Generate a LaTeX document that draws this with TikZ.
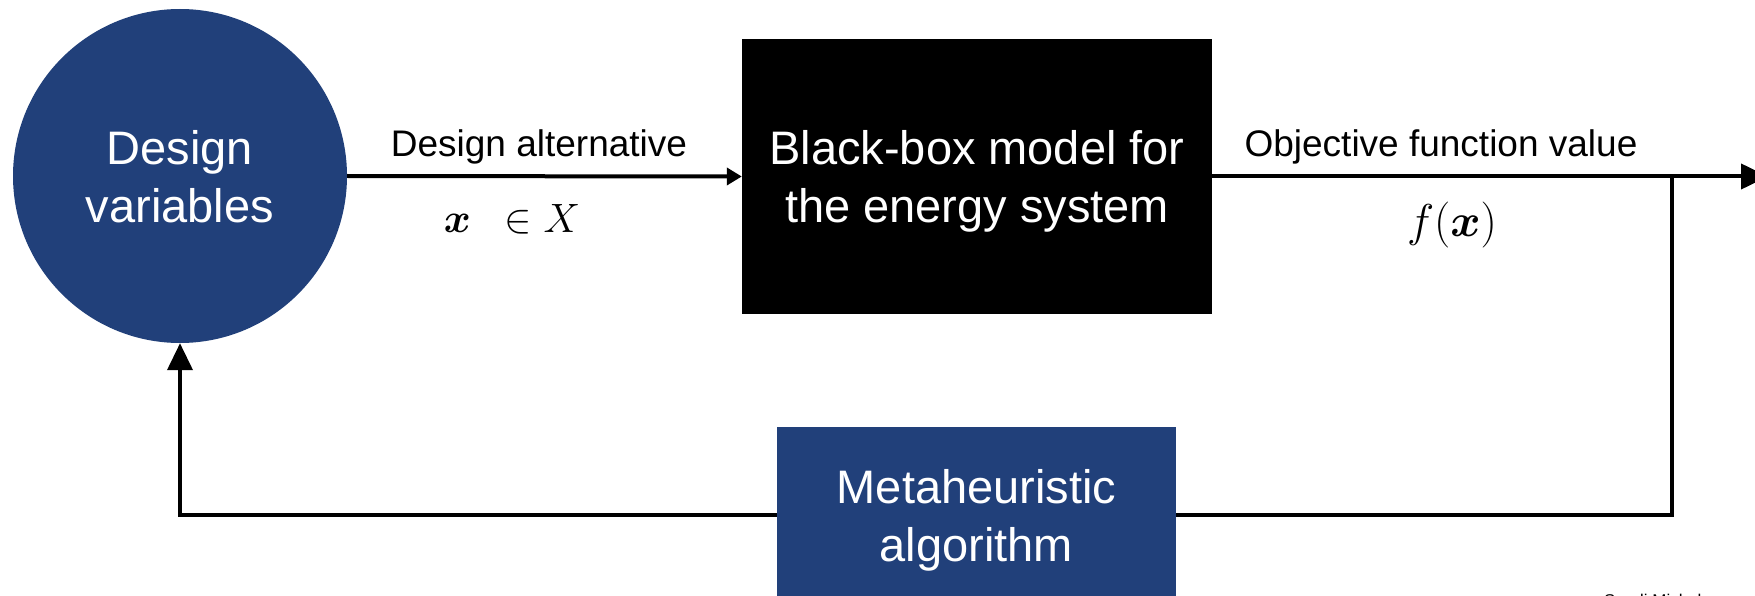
\RequirePackage{fix-cm}
\documentclass[tikz,border=0pt]{standalone}
\usepackage{amsmath,amssymb}
\usepackage{fontspec}
\setmainfont{Liberation Sans}
\usetikzlibrary{arrows.meta}
\definecolor{dvblue}{RGB}{33,64,122}
\begin{document}
\begin{tikzpicture}[x=1pt,y=-1pt,
  bigtext/.style={font=\fontsize{47}{58}\selectfont, align=center, text=white, text depth=0pt, inner sep=0pt},
  lbl/.style={font=\fontsize{37}{44}\selectfont, anchor=base, inner sep=0pt},
  mathlbl/.style={font=\fontsize{41}{48}\selectfont, anchor=base, inner sep=0pt},
  conn/.style={line width=4pt},
  bigtip/.style={-{Triangle[length=27pt,width=25pt]}},
  smalltip/.style={-{Triangle[length=15pt,width=17pt]}}]
\useasboundingbox (0,0) rectangle (1755,596);
\clip (0,0) rectangle (1755,596);
% nodes
\node[circle, fill=dvblue, minimum size=334pt, bigtext] (dv) at (180,176) {Design\\variables};
\node[rectangle, fill=black, minimum width=470pt, minimum height=275pt, bigtext] (bb) at (977,176.5) {Black-box model for\\the energy system};
\node[rectangle, fill=dvblue, minimum width=399pt, minimum height=176pt, bigtext] (meta) at (976.5,515) {Metaheuristic\\algorithm};
\coordinate (j) at (1672,176.5);
\coordinate (out) at (1768,176.5);
% labels
\node[lbl] (l1) at (539,157) {Design alternative};
\node[mathlbl] (m1) at (512,232) {$\boldsymbol{x}\ \ \in X$};
\node[lbl] (l2) at (1441,157) {Objective function value};
\node[mathlbl, font=\fontsize{46}{52}\selectfont] (m2) at (1452,236) {$f(\boldsymbol{x})$};
\node[font=\fontsize{17}{20}\selectfont, anchor=north west, inner sep=0pt] (credit) at (1604,594) {Sandi Michel};
% connectors
\draw[conn, smalltip] (dv.east) -- (bb.west);
\draw[conn, bigtip] (bb.east) -- (out);
\draw[conn] (j) |- (meta.east);
\draw[conn, bigtip] (meta.west) -| (dv.south);
\end{tikzpicture}
\end{document}
